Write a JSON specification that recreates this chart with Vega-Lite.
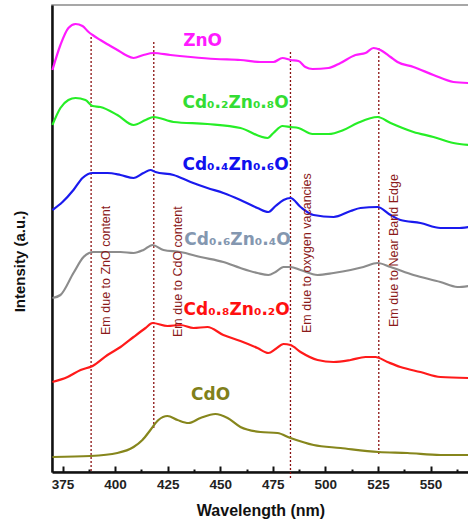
{
  "$schema": "https://vega.github.io/schema/vega-lite/v6.json",
  "autosize": "none",
  "width": 417,
  "height": 467,
  "padding": {"left": 52, "top": 5, "right": 0, "bottom": 49},
  "background": "white",
  "config": {
    "view": {"stroke": "#8a8a8a", "strokeWidth": 1.5},
    "font": "Liberation Sans"
  },
  "datasets": {
    "spectra": [
      {"series": "ZnO", "nm": 370.2, "intensity": 402},
      {"series": "ZnO", "nm": 374, "intensity": 427},
      {"series": "ZnO", "nm": 377.8, "intensity": 444},
      {"series": "ZnO", "nm": 381.2, "intensity": 448},
      {"series": "ZnO", "nm": 384.5, "intensity": 446},
      {"series": "ZnO", "nm": 387.4, "intensity": 440},
      {"series": "ZnO", "nm": 389.3, "intensity": 437},
      {"series": "ZnO", "nm": 393, "intensity": 432},
      {"series": "ZnO", "nm": 397.8, "intensity": 426},
      {"series": "ZnO", "nm": 401.1, "intensity": 422},
      {"series": "ZnO", "nm": 405, "intensity": 417},
      {"series": "ZnO", "nm": 408.8, "intensity": 414},
      {"series": "ZnO", "nm": 413.5, "intensity": 417},
      {"series": "ZnO", "nm": 418.3, "intensity": 419},
      {"series": "ZnO", "nm": 426.3, "intensity": 417},
      {"series": "ZnO", "nm": 435.9, "intensity": 415},
      {"series": "ZnO", "nm": 447.7, "intensity": 413},
      {"series": "ZnO", "nm": 459.6, "intensity": 412},
      {"series": "ZnO", "nm": 469.1, "intensity": 410},
      {"series": "ZnO", "nm": 475.3, "intensity": 410},
      {"series": "ZnO", "nm": 479.6, "intensity": 414},
      {"series": "ZnO", "nm": 483.4, "intensity": 412},
      {"series": "ZnO", "nm": 487.2, "intensity": 411},
      {"series": "ZnO", "nm": 490.5, "intensity": 405},
      {"series": "ZnO", "nm": 493.9, "intensity": 403},
      {"series": "ZnO", "nm": 501.5, "intensity": 404},
      {"series": "ZnO", "nm": 507.2, "intensity": 409},
      {"series": "ZnO", "nm": 514.3, "intensity": 417},
      {"series": "ZnO", "nm": 519.1, "intensity": 419},
      {"series": "ZnO", "nm": 522.9, "intensity": 424},
      {"series": "ZnO", "nm": 526.2, "intensity": 422},
      {"series": "ZnO", "nm": 531, "intensity": 415},
      {"series": "ZnO", "nm": 534.3, "intensity": 410},
      {"series": "ZnO", "nm": 541.9, "intensity": 405},
      {"series": "ZnO", "nm": 551.4, "intensity": 397},
      {"series": "ZnO", "nm": 560.9, "intensity": 390},
      {"series": "ZnO", "nm": 568, "intensity": 389},

      {"series": "Cd0.2Zn0.8O", "nm": 370.2, "intensity": 347},
      {"series": "Cd0.2Zn0.8O", "nm": 374, "intensity": 364},
      {"series": "Cd0.2Zn0.8O", "nm": 377.8, "intensity": 372},
      {"series": "Cd0.2Zn0.8O", "nm": 381.2, "intensity": 374},
      {"series": "Cd0.2Zn0.8O", "nm": 385.9, "intensity": 372},
      {"series": "Cd0.2Zn0.8O", "nm": 389.3, "intensity": 366},
      {"series": "Cd0.2Zn0.8O", "nm": 393, "intensity": 365},
      {"series": "Cd0.2Zn0.8O", "nm": 401.1, "intensity": 357},
      {"series": "Cd0.2Zn0.8O", "nm": 408.8, "intensity": 347},
      {"series": "Cd0.2Zn0.8O", "nm": 414.5, "intensity": 352},
      {"series": "Cd0.2Zn0.8O", "nm": 418.3, "intensity": 355},
      {"series": "Cd0.2Zn0.8O", "nm": 427.8, "intensity": 350},
      {"series": "Cd0.2Zn0.8O", "nm": 443.9, "intensity": 348},
      {"series": "Cd0.2Zn0.8O", "nm": 459.6, "intensity": 344},
      {"series": "Cd0.2Zn0.8O", "nm": 472.5, "intensity": 334},
      {"series": "Cd0.2Zn0.8O", "nm": 475.3, "intensity": 339},
      {"series": "Cd0.2Zn0.8O", "nm": 479.6, "intensity": 346},
      {"series": "Cd0.2Zn0.8O", "nm": 483.4, "intensity": 345},
      {"series": "Cd0.2Zn0.8O", "nm": 487.2, "intensity": 344},
      {"series": "Cd0.2Zn0.8O", "nm": 493.9, "intensity": 338},
      {"series": "Cd0.2Zn0.8O", "nm": 501.5, "intensity": 338},
      {"series": "Cd0.2Zn0.8O", "nm": 508.6, "intensity": 342},
      {"series": "Cd0.2Zn0.8O", "nm": 515.3, "intensity": 349},
      {"series": "Cd0.2Zn0.8O", "nm": 524.8, "intensity": 355},
      {"series": "Cd0.2Zn0.8O", "nm": 531, "intensity": 349},
      {"series": "Cd0.2Zn0.8O", "nm": 541.9, "intensity": 340},
      {"series": "Cd0.2Zn0.8O", "nm": 551.4, "intensity": 335},
      {"series": "Cd0.2Zn0.8O", "nm": 560.9, "intensity": 329},
      {"series": "Cd0.2Zn0.8O", "nm": 568, "intensity": 327},

      {"series": "Cd0.4Zn0.6O", "nm": 370.2, "intensity": 262},
      {"series": "Cd0.4Zn0.6O", "nm": 375, "intensity": 270},
      {"series": "Cd0.4Zn0.6O", "nm": 380.2, "intensity": 282},
      {"series": "Cd0.4Zn0.6O", "nm": 384.5, "intensity": 294},
      {"series": "Cd0.4Zn0.6O", "nm": 389.3, "intensity": 299},
      {"series": "Cd0.4Zn0.6O", "nm": 396.4, "intensity": 299},
      {"series": "Cd0.4Zn0.6O", "nm": 402.6, "intensity": 297},
      {"series": "Cd0.4Zn0.6O", "nm": 408.8, "intensity": 294},
      {"series": "Cd0.4Zn0.6O", "nm": 413.5, "intensity": 299},
      {"series": "Cd0.4Zn0.6O", "nm": 416.8, "intensity": 302},
      {"series": "Cd0.4Zn0.6O", "nm": 419.2, "intensity": 300},
      {"series": "Cd0.4Zn0.6O", "nm": 427.8, "intensity": 297},
      {"series": "Cd0.4Zn0.6O", "nm": 435.9, "intensity": 290},
      {"series": "Cd0.4Zn0.6O", "nm": 443.9, "intensity": 284},
      {"series": "Cd0.4Zn0.6O", "nm": 451.5, "intensity": 279},
      {"series": "Cd0.4Zn0.6O", "nm": 459.6, "intensity": 272},
      {"series": "Cd0.4Zn0.6O", "nm": 467.7, "intensity": 264},
      {"series": "Cd0.4Zn0.6O", "nm": 472.9, "intensity": 260},
      {"series": "Cd0.4Zn0.6O", "nm": 476.3, "intensity": 266},
      {"series": "Cd0.4Zn0.6O", "nm": 480.1, "intensity": 272},
      {"series": "Cd0.4Zn0.6O", "nm": 483.4, "intensity": 274},
      {"series": "Cd0.4Zn0.6O", "nm": 488.2, "intensity": 265},
      {"series": "Cd0.4Zn0.6O", "nm": 494.4, "intensity": 257},
      {"series": "Cd0.4Zn0.6O", "nm": 503.9, "intensity": 255},
      {"series": "Cd0.4Zn0.6O", "nm": 512, "intensity": 261},
      {"series": "Cd0.4Zn0.6O", "nm": 516.7, "intensity": 264},
      {"series": "Cd0.4Zn0.6O", "nm": 524.8, "intensity": 265},
      {"series": "Cd0.4Zn0.6O", "nm": 531, "intensity": 257},
      {"series": "Cd0.4Zn0.6O", "nm": 535.7, "intensity": 252},
      {"series": "Cd0.4Zn0.6O", "nm": 545.2, "intensity": 249},
      {"series": "Cd0.4Zn0.6O", "nm": 554.7, "intensity": 244},
      {"series": "Cd0.4Zn0.6O", "nm": 562.8, "intensity": 244},
      {"series": "Cd0.4Zn0.6O", "nm": 568, "intensity": 245},

      {"series": "Cd0.6Zn0.4O", "nm": 370.2, "intensity": 174},
      {"series": "Cd0.6Zn0.4O", "nm": 374, "intensity": 177},
      {"series": "Cd0.6Zn0.4O", "nm": 380.2, "intensity": 199},
      {"series": "Cd0.6Zn0.4O", "nm": 385, "intensity": 215},
      {"series": "Cd0.6Zn0.4O", "nm": 389.7, "intensity": 220},
      {"series": "Cd0.6Zn0.4O", "nm": 396.4, "intensity": 220},
      {"series": "Cd0.6Zn0.4O", "nm": 402.6, "intensity": 220},
      {"series": "Cd0.6Zn0.4O", "nm": 408.8, "intensity": 219},
      {"series": "Cd0.6Zn0.4O", "nm": 413.5, "intensity": 222},
      {"series": "Cd0.6Zn0.4O", "nm": 417.8, "intensity": 227},
      {"series": "Cd0.6Zn0.4O", "nm": 423, "intensity": 222},
      {"series": "Cd0.6Zn0.4O", "nm": 431.1, "intensity": 220},
      {"series": "Cd0.6Zn0.4O", "nm": 440.6, "intensity": 215},
      {"series": "Cd0.6Zn0.4O", "nm": 451.5, "intensity": 210},
      {"series": "Cd0.6Zn0.4O", "nm": 459.6, "intensity": 204},
      {"series": "Cd0.6Zn0.4O", "nm": 467.7, "intensity": 199},
      {"series": "Cd0.6Zn0.4O", "nm": 472.9, "intensity": 197},
      {"series": "Cd0.6Zn0.4O", "nm": 476.3, "intensity": 200},
      {"series": "Cd0.6Zn0.4O", "nm": 480.1, "intensity": 205},
      {"series": "Cd0.6Zn0.4O", "nm": 483.4, "intensity": 205},
      {"series": "Cd0.6Zn0.4O", "nm": 488.2, "intensity": 202},
      {"series": "Cd0.6Zn0.4O", "nm": 496.3, "intensity": 197},
      {"series": "Cd0.6Zn0.4O", "nm": 503.9, "intensity": 199},
      {"series": "Cd0.6Zn0.4O", "nm": 512, "intensity": 202},
      {"series": "Cd0.6Zn0.4O", "nm": 518.1, "intensity": 205},
      {"series": "Cd0.6Zn0.4O", "nm": 524.8, "intensity": 209},
      {"series": "Cd0.6Zn0.4O", "nm": 531, "intensity": 205},
      {"series": "Cd0.6Zn0.4O", "nm": 541.9, "intensity": 197},
      {"series": "Cd0.6Zn0.4O", "nm": 554.7, "intensity": 190},
      {"series": "Cd0.6Zn0.4O", "nm": 562.8, "intensity": 185},
      {"series": "Cd0.6Zn0.4O", "nm": 568, "intensity": 186},

      {"series": "Cd0.8Zn0.2O", "nm": 370.2, "intensity": 90},
      {"series": "Cd0.8Zn0.2O", "nm": 377.4, "intensity": 95},
      {"series": "Cd0.8Zn0.2O", "nm": 383.6, "intensity": 102},
      {"series": "Cd0.8Zn0.2O", "nm": 389.3, "intensity": 106},
      {"series": "Cd0.8Zn0.2O", "nm": 396.4, "intensity": 117},
      {"series": "Cd0.8Zn0.2O", "nm": 402.6, "intensity": 125},
      {"series": "Cd0.8Zn0.2O", "nm": 408.8, "intensity": 135},
      {"series": "Cd0.8Zn0.2O", "nm": 414.5, "intensity": 144},
      {"series": "Cd0.8Zn0.2O", "nm": 417.8, "intensity": 149},
      {"series": "Cd0.8Zn0.2O", "nm": 424.9, "intensity": 146},
      {"series": "Cd0.8Zn0.2O", "nm": 431.1, "intensity": 147},
      {"series": "Cd0.8Zn0.2O", "nm": 437.3, "intensity": 144},
      {"series": "Cd0.8Zn0.2O", "nm": 443.9, "intensity": 145},
      {"series": "Cd0.8Zn0.2O", "nm": 451.5, "intensity": 137},
      {"series": "Cd0.8Zn0.2O", "nm": 459.6, "intensity": 131},
      {"series": "Cd0.8Zn0.2O", "nm": 467.7, "intensity": 124},
      {"series": "Cd0.8Zn0.2O", "nm": 472.9, "intensity": 119},
      {"series": "Cd0.8Zn0.2O", "nm": 476.3, "intensity": 123},
      {"series": "Cd0.8Zn0.2O", "nm": 480.1, "intensity": 128},
      {"series": "Cd0.8Zn0.2O", "nm": 483.4, "intensity": 127},
      {"series": "Cd0.8Zn0.2O", "nm": 488.2, "intensity": 120},
      {"series": "Cd0.8Zn0.2O", "nm": 496.3, "intensity": 112},
      {"series": "Cd0.8Zn0.2O", "nm": 503.9, "intensity": 110},
      {"series": "Cd0.8Zn0.2O", "nm": 512, "intensity": 112},
      {"series": "Cd0.8Zn0.2O", "nm": 519.1, "intensity": 115},
      {"series": "Cd0.8Zn0.2O", "nm": 523.8, "intensity": 115},
      {"series": "Cd0.8Zn0.2O", "nm": 529.5, "intensity": 110},
      {"series": "Cd0.8Zn0.2O", "nm": 535.7, "intensity": 105},
      {"series": "Cd0.8Zn0.2O", "nm": 545.2, "intensity": 100},
      {"series": "Cd0.8Zn0.2O", "nm": 554.7, "intensity": 95},
      {"series": "Cd0.8Zn0.2O", "nm": 568, "intensity": 94},

      {"series": "CdO", "nm": 370.2, "intensity": 15},
      {"series": "CdO", "nm": 388.3, "intensity": 16},
      {"series": "CdO", "nm": 401.1, "intensity": 19},
      {"series": "CdO", "nm": 408.8, "intensity": 25},
      {"series": "CdO", "nm": 413, "intensity": 32},
      {"series": "CdO", "nm": 416.8, "intensity": 42},
      {"series": "CdO", "nm": 420.6, "intensity": 52},
      {"series": "CdO", "nm": 424.9, "intensity": 56},
      {"series": "CdO", "nm": 429.7, "intensity": 52},
      {"series": "CdO", "nm": 434.9, "intensity": 49},
      {"series": "CdO", "nm": 440.6, "intensity": 54},
      {"series": "CdO", "nm": 447.7, "intensity": 58},
      {"series": "CdO", "nm": 453.5, "intensity": 54},
      {"series": "CdO", "nm": 459.6, "intensity": 45},
      {"series": "CdO", "nm": 469.1, "intensity": 40},
      {"series": "CdO", "nm": 477.2, "intensity": 39},
      {"series": "CdO", "nm": 483.4, "intensity": 34},
      {"series": "CdO", "nm": 494.4, "intensity": 27},
      {"series": "CdO", "nm": 507.2, "intensity": 24},
      {"series": "CdO", "nm": 525.3, "intensity": 20},
      {"series": "CdO", "nm": 539, "intensity": 19},
      {"series": "CdO", "nm": 554.7, "intensity": 17},
      {"series": "CdO", "nm": 568, "intensity": 17}
    ],
    "markers": [
      {"nm": 388.6, "top": 435, "bottom": 0},
      {"nm": 418.4, "top": 430, "bottom": 42},
      {"nm": 483.4, "top": 420, "bottom": -6},
      {"nm": 525.4, "top": 424, "bottom": 17}
    ],
    "notes": [
      {"note": "Em due to ZnO content", "nm": 395.5, "intensity": 137},
      {"note": "Em due to CdO content", "nm": 429.7, "intensity": 135},
      {"note": "Em due to oxygen vacancies", "nm": 491.5, "intensity": 139},
      {"note": "Em due to Near Band Edge", "nm": 532.4, "intensity": 145}
    ],
    "labels": [
      {"series": "ZnO", "label": "ZnO", "nm": 441.6, "intensity": 431},
      {"series": "Cd0.2Zn0.8O", "label": "Cd₀.₂Zn₀.₈O", "nm": 457.3, "intensity": 369},
      {"series": "Cd0.4Zn0.6O", "label": "Cd₀.₄Zn₀.₆O", "nm": 457.3, "intensity": 307},
      {"series": "Cd0.6Zn0.4O", "label": "Cd₀.₆Zn₀.₄O", "nm": 458.2, "intensity": 232},
      {"series": "Cd0.8Zn0.2O", "label": "Cd₀.₈Zn₀.₂O", "nm": 457.8, "intensity": 162},
      {"series": "CdO", "label": "CdO", "nm": 445.4, "intensity": 77}
    ]
  },
  "encoding": {
    "x": {
      "field": "nm",
      "type": "quantitative",
      "scale": {"domain": [370, 568.3], "nice": false, "zero": false},
      "axis": {
        "title": "Wavelength (nm)",
        "values": [375, 387.5, 400, 412.5, 425, 437.5, 450, 462.5, 475, 487.5, 500, 512.5, 525, 537.5, 550, 562.5],
        "labelExpr": "datum.value % 25 === 0 ? datum.label : ''",
        "format": "d",
        "grid": false,
        "domainColor": "#111",
        "domainWidth": 2.5,
        "tickColor": "#111",
        "tickWidth": 2,
        "tickSize": {"condition": {"test": "datum.value % 25 !== 0", "value": -3}, "value": -6},
        "labelFont": "Liberation Sans",
        "labelFontWeight": "bold",
        "labelFontSize": 13.5,
        "labelColor": "#222",
        "labelPadding": 11,
        "titleFont": "Liberation Sans",
        "titleFontWeight": "bold",
        "titleFontSize": 16,
        "titleColor": "#111",
        "titlePadding": 12
      }
    },
    "y": {
      "field": "intensity",
      "type": "quantitative",
      "scale": {"domain": [0, 467], "nice": false, "zero": false},
      "axis": {
        "title": "Intensity (a.u.)",
        "labels": false,
        "ticks": false,
        "grid": false,
        "domainColor": "#111",
        "domainWidth": 2.5,
        "titleFont": "Liberation Sans",
        "titleFontWeight": "bold",
        "titleFontSize": 15,
        "titleColor": "#111",
        "titlePadding": 25,
        "titleY": 256
      }
    }
  },
  "layer": [
    {
      "data": {"name": "markers"},
      "mark": {"type": "rule", "color": "#8b1010", "strokeDash": [2, 2], "strokeWidth": 1.3},
      "encoding": {"y": {"field": "top", "type": "quantitative"}, "y2": {"field": "bottom"}}
    },
    {
      "data": {"name": "spectra"},
      "mark": {"type": "line", "strokeWidth": 2.2, "interpolate": "monotone"},
      "encoding": {
        "color": {
          "field": "series",
          "type": "nominal",
          "legend": null,
          "scale": {
            "domain": ["ZnO", "Cd0.2Zn0.8O", "Cd0.4Zn0.6O", "Cd0.6Zn0.4O", "Cd0.8Zn0.2O", "CdO"],
            "range": ["#ff1aff", "#26ee26", "#1a1aee", "#8c8c8c", "#ff1a1a", "#86861c"]
          }
        }
      }
    },
    {
      "data": {"name": "notes"},
      "mark": {"type": "text", "angle": 270, "align": "left", "baseline": "middle", "font": "Liberation Sans", "fontSize": 12.5, "color": "#8b1a1a"},
      "encoding": {"text": {"field": "note"}}
    },
    {
      "data": {"name": "labels"},
      "mark": {"type": "text", "align": "center", "baseline": "middle", "font": "DejaVu Sans", "fontWeight": "bold", "fontSize": 17},
      "encoding": {
        "text": {"field": "label"},
        "color": {
          "field": "series",
          "type": "nominal",
          "legend": null,
          "scale": {
            "domain": ["ZnO", "Cd0.2Zn0.8O", "Cd0.4Zn0.6O", "Cd0.6Zn0.4O", "Cd0.8Zn0.2O", "CdO"],
            "range": ["#ff1aff", "#33dd33", "#1010ee", "#8497b0", "#ff1010", "#80801a"]
          }
        }
      }
    }
  ],
  "resolve": {"scale": {"color": "independent"}}
}
